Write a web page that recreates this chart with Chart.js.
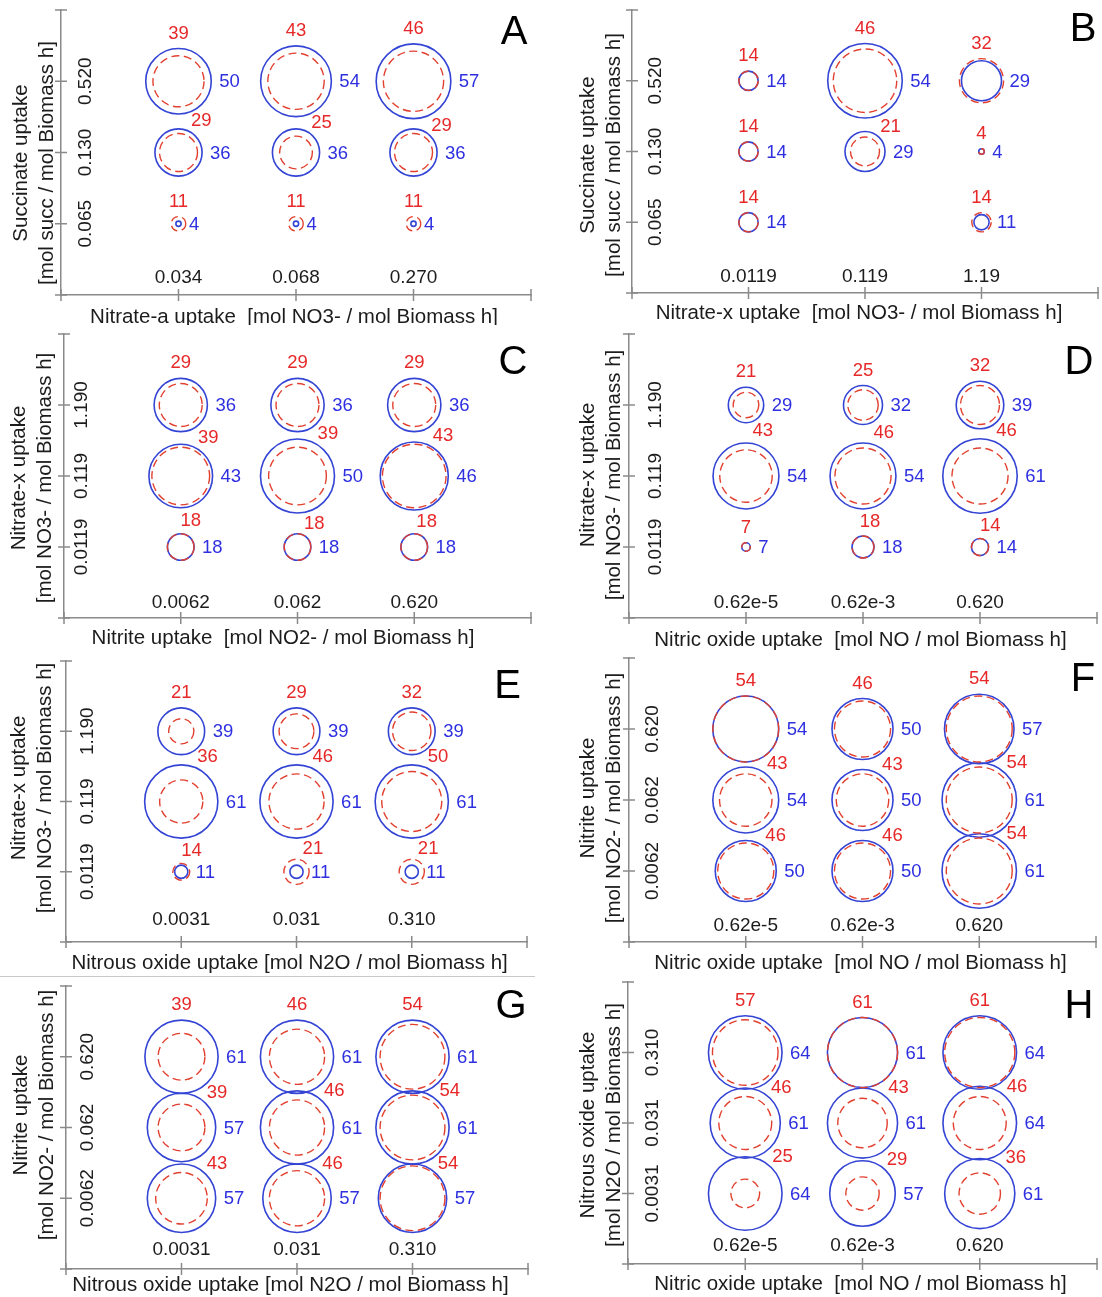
<!DOCTYPE html>
<html><head><meta charset="utf-8">
<script src="https://cdn.jsdelivr.net/npm/chart.js@4.4.1/dist/chart.umd.min.js"></script>
<style>
html,body{margin:0;padding:0;background:#fff;}
body{width:1102px;height:1297px;position:relative;overflow:hidden;}
canvas{position:absolute;display:block;}
.sep{position:absolute;left:0;top:976px;width:535px;height:0;border-top:1px solid #c8c8c8;}
</style></head><body>
<canvas id="cA"></canvas><canvas id="cB"></canvas>
<canvas id="cC"></canvas><canvas id="cD"></canvas>
<canvas id="cE"></canvas><canvas id="cF"></canvas>
<canvas id="cG"></canvas><canvas id="cH"></canvas>
<div class="sep"></div>
<script>
// ---------- data ----------
const COLS = [1, 2, 3];   // x category positions
const ROWS = [3, 2, 1];   // y category positions, top row first

// Panel A
const aXTicks = ['0.034', '0.068', '0.270'];
const aYTicks = ['0.065', '0.130', '0.520'];
const aRed  = [[39, 43, 46], [29, 25, 29], [11, 11, 11]];
const aBlue = [[50, 54, 57], [36, 36, 36], [4, 4, 4]];
const aXTitle = 'Nitrate-a uptake  [mol NO3- / mol Biomass h]';
const aYTitle = ['Succinate uptake', '[mol succ / mol Biomass h]'];

// Panel B
const bXTicks = ['0.0119', '0.119', '1.19'];
const bYTicks = ['0.065', '0.130', '0.520'];
const bRed  = [[14, 46, 32], [14, 21, 4], [14, null, 14]];
const bBlue = [[14, 54, 29], [14, 29, 4], [14, null, 11]];
const bXTitle = 'Nitrate-x uptake  [mol NO3- / mol Biomass h]';
const bYTitle = ['Succinate uptake', '[mol succ / mol Biomass h]'];

// Panel C
const cXTicks = ['0.0062', '0.062', '0.620'];
const cYTicks = ['0.0119', '0.119', '1.190'];
const cRed  = [[29, 29, 29], [39, 39, 43], [18, 18, 18]];
const cBlue = [[36, 36, 36], [43, 50, 46], [18, 18, 18]];
const cXTitle = 'Nitrite uptake  [mol NO2- / mol Biomass h]';
const cYTitle = ['Nitrate-x uptake', '[mol NO3- / mol Biomass h]'];

// Panel D
const dXTicks = ['0.62e-5', '0.62e-3', '0.620'];
const dYTicks = ['0.0119', '0.119', '1.190'];
const dRed  = [[21, 25, 32], [43, 46, 46], [7, 18, 14]];
const dBlue = [[29, 32, 39], [54, 54, 61], [7, 18, 14]];
const dXTitle = 'Nitric oxide uptake  [mol NO / mol Biomass h]';
const dYTitle = ['Nitrate-x uptake', '[mol NO3- / mol Biomass h]'];

// Panel E
const eXTicks = ['0.0031', '0.031', '0.310'];
const eYTicks = ['0.0119', '0.119', '1.190'];
const eRed  = [[21, 29, 32], [36, 46, 50], [14, 21, 21]];
const eBlue = [[39, 39, 39], [61, 61, 61], [11, 11, 11]];
const eXTitle = 'Nitrous oxide uptake [mol N2O / mol Biomass h]';
const eYTitle = ['Nitrate-x uptake', '[mol NO3- / mol Biomass h]'];

// Panel F
const fXTicks = ['0.62e-5', '0.62e-3', '0.620'];
const fYTicks = ['0.0062', '0.062', '0.620'];
const fRed  = [[54, 46, 54], [43, 43, 54], [46, 46, 54]];
const fBlue = [[54, 50, 57], [54, 50, 61], [50, 50, 61]];
const fXTitle = 'Nitric oxide uptake  [mol NO / mol Biomass h]';
const fYTitle = ['Nitrite uptake', '[mol NO2- / mol Biomass h]'];

// Panel G
const gXTicks = ['0.0031', '0.031', '0.310'];
const gYTicks = ['0.0062', '0.062', '0.620'];
const gRed  = [[39, 46, 54], [39, 46, 54], [43, 46, 54]];
const gBlue = [[61, 61, 61], [57, 61, 61], [57, 57, 57]];
const gXTitle = 'Nitrous oxide uptake [mol N2O / mol Biomass h]';
const gYTitle = ['Nitrite uptake', '[mol NO2- / mol Biomass h]'];

// Panel H
const hXTicks = ['0.62e-5', '0.62e-3', '0.620'];
const hYTicks = ['0.0031', '0.031', '0.310'];
const hRed  = [[57, 61, 61], [46, 43, 46], [25, 29, 36]];
const hBlue = [[64, 61, 64], [61, 61, 64], [64, 57, 61]];
const hXTitle = 'Nitric oxide uptake  [mol NO / mol Biomass h]';
const hYTitle = ['Nitrous oxide uptake', '[mol N2O / mol Biomass h]'];

// ---------- layout / style (page coordinates) ----------
const LAYOUT = {
  A: {box:[0,0,551,325],    area:[61,10,531,295],     k:0.655, xLblY:278,  yLblX:86,    xTitle:[294,317],    yTitle:[21,47,163],    letter:[514,33]},
  B: {box:[551,0,551,325],  area:[632,10,1098,293],   k:0.69,  xLblY:277,  yLblX:656,   xTitle:[859,313],    yTitle:[588,614,155],  letter:[1083,30]},
  C: {box:[0,325,551,325],  area:[64,334,531,618],    k:0.74,  xLblY:603,  yLblX:82,    xTitle:[283,638],    yTitle:[19,45.5,478],  letter:[513,363]},
  D: {box:[551,325,551,325],area:[629,334,1097,618],  k:0.61,  xLblY:603,  yLblX:656,   xTitle:[860.5,640],  yTitle:[588,614,475],  letter:[1079,363]},
  E: {box:[0,650,551,325],  area:[66,661,527,942],    k:0.60,  xLblY:920,  yLblX:87.5,  xTitle:[289.6,963],  yTitle:[19,45.5,788],  letter:[507.5,687]},
  F: {box:[551,650,551,325],area:[629,658,1096,942],  k:0.61,  xLblY:926,  yLblX:652.5, xTitle:[860.5,963],  yTitle:[588,614,798],  letter:[1083,680]},
  G: {box:[0,975,551,322],  area:[66,986,528,1269],   k:0.60,  xLblY:1250, yLblX:87.5,  xTitle:[290.5,1285], yTitle:[21,47,1115],  letter:[511,1007]},
  H: {box:[551,975,551,322],area:[628,982,1097,1264], k:0.575, xLblY:1246, yLblX:652.5, xTitle:[860.5,1284], yTitle:[588,614,1125], letter:[1079,1007]}
};

const FONT = '"Liberation Sans", Arial, Helvetica, sans-serif';
const AXIS = '#8a8a8a';
const BLUE_LINE = '#3444d4', BLUE_TXT = '#2e30e0';
const RED_LINE = '#e2402f', RED_TXT = '#e62828';
const TXT = '#1c1c1c';

const PANELS = {
  A:{red:aRed, blue:aBlue, xt:aXTicks, yt:aYTicks, xTitle:aXTitle, yTitle:aYTitle},
  B:{red:bRed, blue:bBlue, xt:bXTicks, yt:bYTicks, xTitle:bXTitle, yTitle:bYTitle},
  C:{red:cRed, blue:cBlue, xt:cXTicks, yt:cYTicks, xTitle:cXTitle, yTitle:cYTitle},
  D:{red:dRed, blue:dBlue, xt:dXTicks, yt:dYTicks, xTitle:dXTitle, yTitle:dYTitle},
  E:{red:eRed, blue:eBlue, xt:eXTicks, yt:eYTicks, xTitle:eXTitle, yTitle:eYTitle},
  F:{red:fRed, blue:fBlue, xt:fXTicks, yt:fYTicks, xTitle:fXTitle, yTitle:fYTitle},
  G:{red:gRed, blue:gBlue, xt:gXTicks, yt:gYTicks, xTitle:gXTitle, yTitle:gYTitle},
  H:{red:hRed, blue:hBlue, xt:hXTicks, yt:hYTicks, xTitle:hXTitle, yTitle:hYTitle}
};

function makePanel(name) {
  const L = LAYOUT[name], D = PANELS[name];
  const [ox, oy, w, h] = L.box;
  const cv = document.getElementById('c' + name);
  cv.width = w; cv.height = h;
  cv.style.left = ox + 'px'; cv.style.top = oy + 'px';
  cv.style.width = w + 'px'; cv.style.height = h + 'px';

  const redData = [], blueData = [];
  ROWS.forEach((yv, ri) => COLS.forEach((xv, ci) => {
    const rv = D.red[ri][ci], bv = D.blue[ri][ci];
    if (rv == null || bv == null) return;
    redData.push({x: xv, y: yv, r: rv * L.k, v: rv});
    blueData.push({x: xv, y: yv, r: bv * L.k, v: bv});
  }));

  const plugin = {
    id: 'panel' + name,
    beforeDatasetDraw(chart, args) {
      const ds = chart.data.datasets[args.index];
      chart.ctx.save();
      chart.ctx.setLineDash(ds.dashPattern || []);
    },
    afterDatasetDraw(chart) { chart.ctx.restore(); },
    afterDraw(chart) {
      const ctx = chart.ctx, xs = chart.scales.x, ys = chart.scales.y, ca = chart.chartArea;
      ctx.save();
      // tick marks crossing the axes
      ctx.strokeStyle = AXIS; ctx.lineWidth = 1.5; ctx.setLineDash([]);
      xs.ticks.forEach(t => {
        const px = xs.getPixelForValue(t.value);
        ctx.beginPath(); ctx.moveTo(px, ca.bottom - 6); ctx.lineTo(px, ca.bottom + 6); ctx.stroke();
      });
      ys.ticks.forEach(t => {
        const py = ys.getPixelForValue(t.value);
        ctx.beginPath(); ctx.moveTo(ca.left - 6, py); ctx.lineTo(ca.left + 6, py); ctx.stroke();
      });
      // tick labels
      ctx.fillStyle = TXT; ctx.font = '19px ' + FONT;
      ctx.textAlign = 'center'; ctx.textBaseline = 'middle';
      COLS.forEach((v, i) => ctx.fillText(D.xt[i], xs.getPixelForValue(v), L.xLblY - oy));
      [1, 2, 3].forEach((v, i) => {
        ctx.save();
        ctx.translate(L.yLblX - ox, ys.getPixelForValue(v));
        ctx.rotate(-Math.PI / 2);
        ctx.fillText(D.yt[i], 0, 0);
        ctx.restore();
      });
      // axis titles
      ctx.font = '20.5px ' + FONT;
      ctx.fillText(D.xTitle, L.xTitle[0] - ox, L.xTitle[1] - oy);
      [0, 1].forEach(j => {
        ctx.save();
        ctx.translate(L.yTitle[j] - ox, L.yTitle[2] - oy);
        ctx.rotate(-Math.PI / 2);
        ctx.fillText(D.yTitle[j], 0, 0);
        ctx.restore();
      });
      // panel letter
      ctx.fillStyle = '#000'; ctx.font = '40px ' + FONT;
      ctx.fillText(name, L.letter[0] - ox, L.letter[1] - oy);

      // value labels
      const mr = chart.getDatasetMeta(0).data, mb = chart.getDatasetMeta(1).data;
      const pts = mr.map((el, i) => ({cx: el.x, cy: el.y, rr: el.options.radius, rb: mb[i].options.radius}));
      ctx.font = '18.5px ' + FONT;
      pts.forEach((p, i) => {
        // blue value, right of blue circle
        ctx.fillStyle = BLUE_TXT; ctx.textAlign = 'left';
        ctx.fillText(String(blueData[i].v), p.cx + p.rb + 8, p.cy + 1);
        // red value, above; rotate clockwise if it hits a neighbouring circle
        const rmax = Math.max(p.rr, p.rb), d = rmax + 16;
        let lx = p.cx, ly = p.cy - d;
        for (let a = 90; a >= 25; a -= 5) {
          const t = a * Math.PI / 180;
          lx = p.cx + d * Math.cos(t); ly = p.cy - d * Math.sin(t);
          const ok = pts.every((q, j) => j === i ||
            Math.hypot(lx - q.cx, ly - q.cy) > Math.max(q.rr, q.rb) + 12);
          if (ok) break;
        }
        ctx.fillStyle = RED_TXT; ctx.textAlign = 'center';
        ctx.fillText(String(redData[i].v), lx, ly + 1);
      });
      ctx.restore();
    }
  };

  const axisOpts = (pos) => ({
    type: 'linear', min: 0, max: 4, position: pos,
    ticks: {display: false, stepSize: 1},
    grid: {display: false, drawTicks: false},
    border: {display: true, color: AXIS, width: 1.5},
    title: {display: false},
    afterFit(s) { if (pos === 'left') s.width = 0; else s.height = 0; }
  });

  new Chart(cv, {
    type: 'bubble',
    data: {
      datasets: [
        {label: 'red', data: redData, borderColor: RED_LINE, backgroundColor: 'transparent',
         borderWidth: 1.4, dashPattern: [8, 4.5], clip: false, hoverRadius: 0},
        {label: 'blue', data: blueData, borderColor: BLUE_LINE, backgroundColor: 'transparent',
         borderWidth: 1.6, clip: false, hoverRadius: 0}
      ]
    },
    options: {
      responsive: false, animation: false, events: [],
      layout: {autoPadding: false, padding: {
        left: L.area[0] - ox, top: L.area[1] - oy,
        right: ox + w - L.area[2], bottom: oy + h - L.area[3]
      }},
      plugins: {legend: {display: false}, tooltip: {enabled: false}},
      scales: {x: axisOpts('bottom'), y: axisOpts('left')}
    },
    plugins: [plugin]
  });
}

['A','B','C','D','E','F','G','H'].forEach(makePanel);
</script>
</body></html>
